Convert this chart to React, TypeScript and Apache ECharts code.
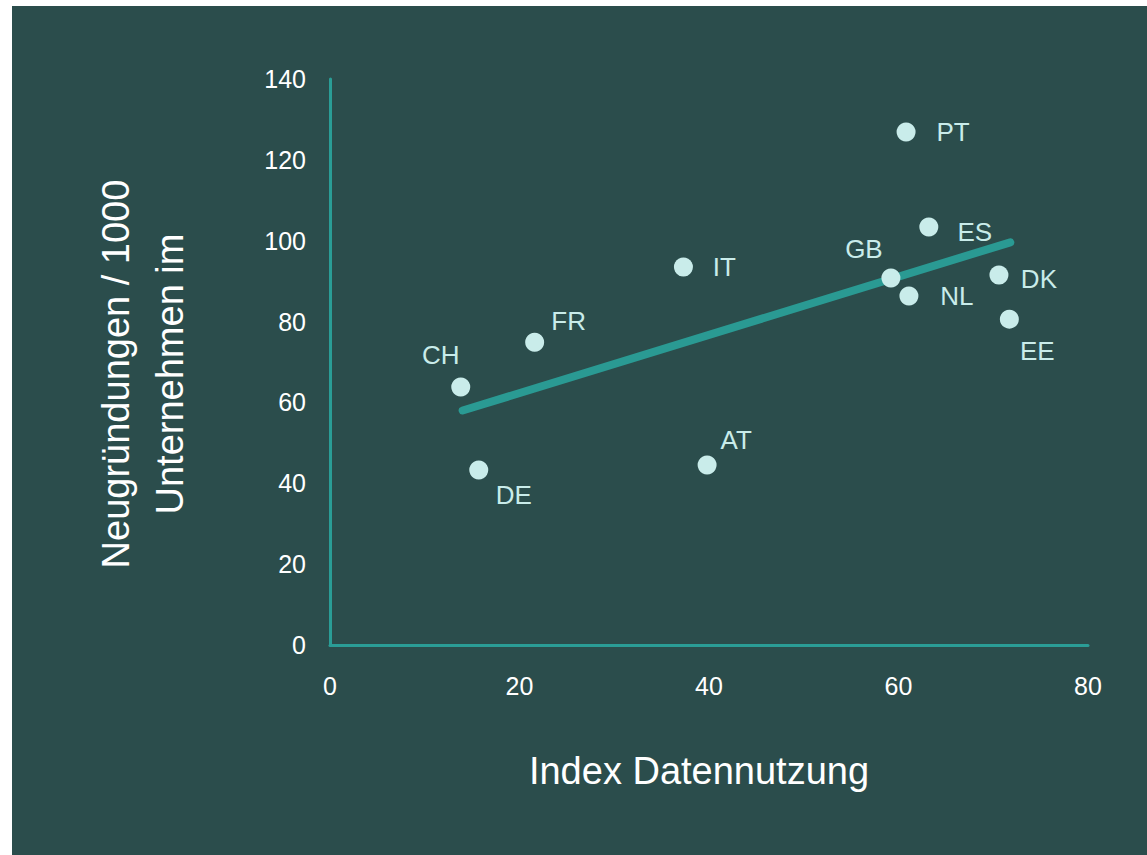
import React, { useEffect, useRef } from "react";
import * as echarts from "echarts";

const countries = ["CH", "DE", "FR", "IT", "AT", "GB", "PT", "ES", "NL", "DK", "EE"];
const dataUsageIndex = [13.8, 15.7, 21.6, 37.3, 39.8, 59.2, 60.8, 63.2, 61.1, 70.6, 71.7];
const startupsPer1000 = [63.8, 43.3, 74.9, 93.5, 44.5, 90.8, 126.9, 103.4, 86.3, 91.5, 80.6];
const trendX = [14.0, 71.8];
const trendY = [58.0, 99.6];
const xTicks = [0, 20, 40, 60, 80];
const yTicks = [0, 20, 40, 60, 80, 100, 120, 140];

// label offsets (px) from point centre, per country
const labelOffsets: Record<string, [number, number]> = {
  CH: [-20, -32],
  DE: [35, 25],
  FR: [34, -21],
  IT: [41, 0],
  AT: [29, -25],
  GB: [-27, -29],
  PT: [47, 0],
  ES: [46, 5],
  NL: [48, 0],
  DK: [40, 4],
  EE: [28, 32],
};

const FONT = '"Liberation Sans", Arial, sans-serif';

export default function App() {
  const ref = useRef<HTMLDivElement>(null);
  useEffect(() => {
    if (!ref.current) return;
    const chart = echarts.init(ref.current, undefined, { renderer: "svg" });
    const scatterData = countries.map((c, i) => ({
      name: c,
      value: [dataUsageIndex[i], startupsPer1000[i]],
      label: { offset: labelOffsets[c] },
    }));
    chart.setOption({
      animation: false,
      backgroundColor: "#2b4d4c",
      textStyle: { fontFamily: FONT },
      grid: { left: 318, right: 59, top: 73, bottom: 210, containLabel: false },
      xAxis: {
        type: "value",
        min: xTicks[0],
        max: xTicks[xTicks.length - 1],
        interval: 20,
        name: "Index Datennutzung",
        nameLocation: "middle",
        nameGap: 107,
        nameTextStyle: { color: "#ffffff", fontSize: 38, fontFamily: FONT, padding: [0, 20, 0, 0] },
        axisLine: { show: true, lineStyle: { color: "#2a9d96", width: 3 } },
        axisTick: { show: false },
        splitLine: { show: false },
        axisLabel: { color: "#ffffff", fontSize: 25, margin: 28, fontFamily: FONT },
      },
      yAxis: {
        type: "value",
        min: yTicks[0],
        max: yTicks[yTicks.length - 1],
        interval: 20,
        name: "Neugründungen / 1000\nUnternehmen im",
        nameLocation: "middle",
        nameGap: 133,
        nameRotate: 90,
        nameTextStyle: {
          color: "#ffffff",
          fontSize: 38,
          lineHeight: 54,
          fontFamily: FONT,
          align: "center",
          padding: [0, 24, 0, 0],
        },
        axisLine: { show: true, lineStyle: { color: "#2a9d96", width: 3 } },
        axisTick: { show: false },
        splitLine: { show: false },
        axisLabel: { color: "#ffffff", fontSize: 25, margin: 24, fontFamily: FONT },
      },
      series: [
        {
          type: "line",
          data: trendX.map((x, i) => [x, trendY[i]]),
          symbol: "none",
          lineStyle: { color: "#2a9a93", width: 8, cap: "round" },
          z: 1,
          silent: true,
        },
        {
          type: "scatter",
          data: scatterData,
          symbolSize: 19,
          itemStyle: { color: "#c9ecea", opacity: 1 },
          z: 2,
          label: {
            show: true,
            position: "inside",
            formatter: "{b}",
            color: "#c9ecea",
            fontSize: 26,
            fontFamily: FONT,
            align: "center",
            verticalAlign: "middle",
          },
        },
      ],
    });
    return () => chart.dispose();
  }, []);
  return (
    <div style={{ position: "fixed", left: 0, top: 0, width: 1147, height: 855, background: "#ffffff" }}>
      <div
        ref={ref}
        style={{ position: "absolute", left: 12, top: 6, width: 1135, height: 849 }}
      />
    </div>
  );
}
